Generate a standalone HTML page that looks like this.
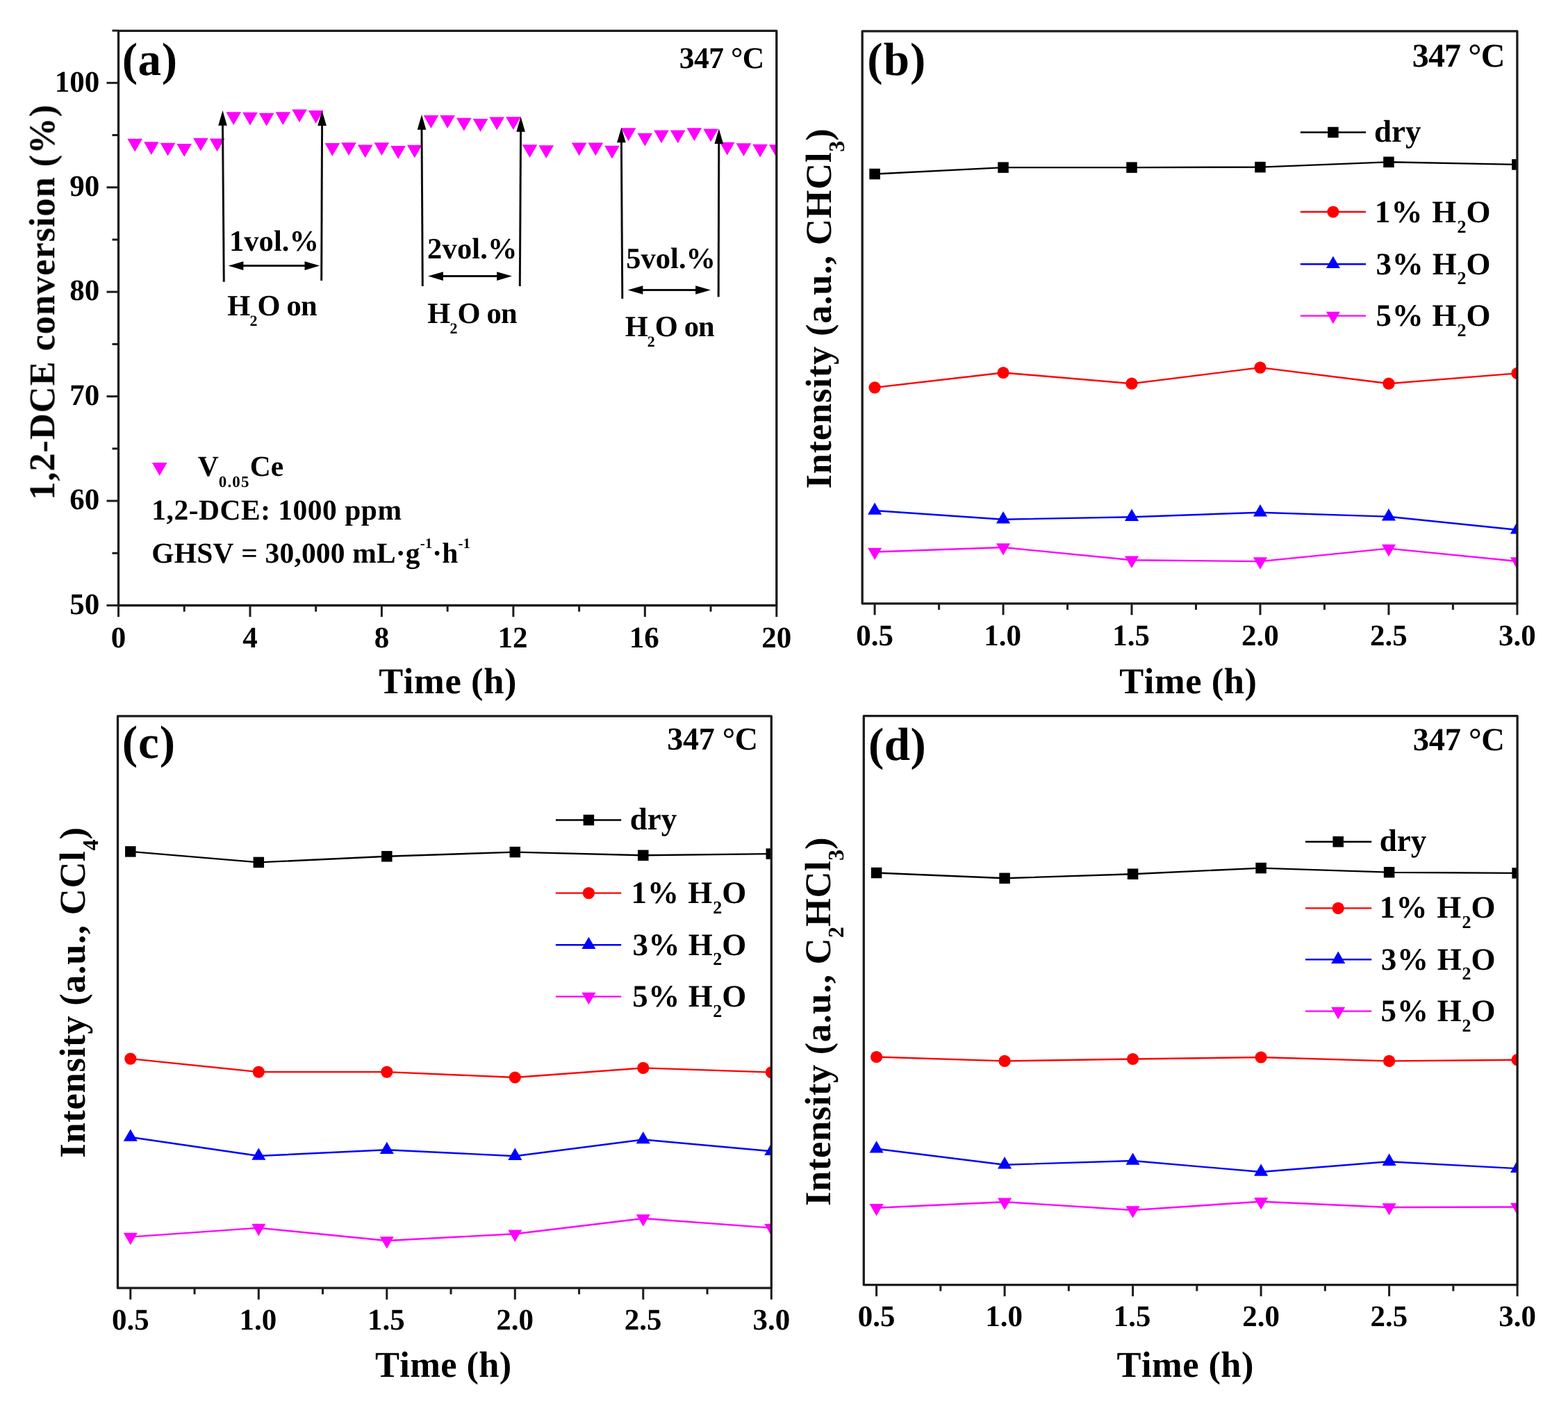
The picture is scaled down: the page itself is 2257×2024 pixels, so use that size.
<!DOCTYPE html>
<html><head><meta charset="utf-8"><title>Figure</title>
<style>
html,body{margin:0;padding:0;background:#fff;}
body{width:2257px;height:2024px;overflow:hidden;}
svg{display:block;font-kerning:none;text-rendering:geometricPrecision;}
text{font-kerning:none;}
</style></head><body>
<svg width="2257" height="2024" viewBox="0 0 2257 2024">
<defs><filter id="soft" x="0" y="0" width="2257" height="2024" filterUnits="userSpaceOnUse"><feGaussianBlur stdDeviation="0.45"/></filter></defs>
<rect width="2257" height="2024" fill="#fff"/>
<g filter="url(#soft)">
<clipPath id="ca"><rect x="170.50" y="44.40" width="947.30" height="827.10"/></clipPath>
<g clip-path="url(#ca)">
<polygon points="183.36,199.85 205.01,199.85 194.18,218.60" fill="#ff00ff"/>
<polygon points="207.04,204.25 228.69,204.25 217.87,223.00" fill="#ff00ff"/>
<polygon points="230.72,205.75 252.37,205.75 241.55,224.50" fill="#ff00ff"/>
<polygon points="254.40,206.95 276.06,206.95 265.23,225.70" fill="#ff00ff"/>
<polygon points="278.09,198.85 299.74,198.85 288.91,217.60" fill="#ff00ff"/>
<polygon points="301.77,199.45 323.42,199.45 312.59,218.20" fill="#ff00ff"/>
<polygon points="325.45,161.35 347.10,161.35 336.28,180.10" fill="#ff00ff"/>
<polygon points="349.13,161.85 370.79,161.85 359.96,180.60" fill="#ff00ff"/>
<polygon points="372.82,162.85 394.47,162.85 383.64,181.60" fill="#ff00ff"/>
<polygon points="396.50,161.15 418.15,161.15 407.32,179.90" fill="#ff00ff"/>
<polygon points="420.18,157.45 441.83,157.45 431.01,176.20" fill="#ff00ff"/>
<polygon points="443.86,158.95 465.52,158.95 454.69,177.70" fill="#ff00ff"/>
<polygon points="467.55,205.95 489.20,205.95 478.37,224.70" fill="#ff00ff"/>
<polygon points="491.23,205.25 512.88,205.25 502.05,224.00" fill="#ff00ff"/>
<polygon points="514.91,208.45 536.56,208.45 525.74,227.20" fill="#ff00ff"/>
<polygon points="538.59,205.25 560.25,205.25 549.42,224.00" fill="#ff00ff"/>
<polygon points="562.28,209.95 583.93,209.95 573.10,228.70" fill="#ff00ff"/>
<polygon points="585.96,208.65 607.61,208.65 596.78,227.40" fill="#ff00ff"/>
<polygon points="609.64,166.05 631.29,166.05 620.47,184.80" fill="#ff00ff"/>
<polygon points="633.32,166.05 654.98,166.05 644.15,184.80" fill="#ff00ff"/>
<polygon points="657.01,169.75 678.66,169.75 667.83,188.50" fill="#ff00ff"/>
<polygon points="680.69,170.95 702.34,170.95 691.51,189.70" fill="#ff00ff"/>
<polygon points="704.37,168.55 726.02,168.55 715.20,187.30" fill="#ff00ff"/>
<polygon points="728.05,168.25 749.71,168.25 738.88,187.00" fill="#ff00ff"/>
<polygon points="751.74,208.15 773.39,208.15 762.56,226.90" fill="#ff00ff"/>
<polygon points="775.42,209.15 797.07,209.15 786.25,227.90" fill="#ff00ff"/>
<polygon points="822.78,205.45 844.44,205.45 833.61,224.20" fill="#ff00ff"/>
<polygon points="846.47,205.45 868.12,205.45 857.29,224.20" fill="#ff00ff"/>
<polygon points="870.15,209.75 891.80,209.75 880.98,228.50" fill="#ff00ff"/>
<polygon points="893.83,184.35 915.48,184.35 904.66,203.10" fill="#ff00ff"/>
<polygon points="917.51,191.75 939.17,191.75 928.34,210.50" fill="#ff00ff"/>
<polygon points="941.20,187.55 962.85,187.55 952.02,206.30" fill="#ff00ff"/>
<polygon points="964.88,187.55 986.53,187.55 975.70,206.30" fill="#ff00ff"/>
<polygon points="988.56,184.25 1010.21,184.25 999.39,203.00" fill="#ff00ff"/>
<polygon points="1012.24,185.45 1033.90,185.45 1023.07,204.20" fill="#ff00ff"/>
<polygon points="1035.93,204.85 1057.58,204.85 1046.75,223.60" fill="#ff00ff"/>
<polygon points="1059.61,206.15 1081.26,206.15 1070.43,224.90" fill="#ff00ff"/>
<polygon points="1083.29,207.65 1104.94,207.65 1094.12,226.40" fill="#ff00ff"/>
<polygon points="1106.97,208.35 1128.63,208.35 1117.80,227.10" fill="#ff00ff"/>
</g>
<line x1="320.50" y1="178.80" x2="322.30" y2="405.80" stroke="#111" stroke-width="3.00" stroke-linecap="butt"/>
<polygon points="320.50,159.10 314.20,180.80 326.80,180.80" fill="#000"/>
<line x1="463.60" y1="178.90" x2="462.70" y2="403.90" stroke="#111" stroke-width="3.00" stroke-linecap="butt"/>
<polygon points="463.60,159.20 457.30,180.90 469.90,180.90" fill="#000"/>
<line x1="607.00" y1="184.80" x2="608.30" y2="412.00" stroke="#111" stroke-width="3.00" stroke-linecap="butt"/>
<polygon points="607.00,165.10 600.70,186.80 613.30,186.80" fill="#000"/>
<line x1="749.60" y1="187.70" x2="748.30" y2="412.00" stroke="#111" stroke-width="3.00" stroke-linecap="butt"/>
<polygon points="749.60,168.00 743.30,189.70 755.90,189.70" fill="#000"/>
<line x1="894.40" y1="203.30" x2="895.80" y2="429.90" stroke="#111" stroke-width="3.00" stroke-linecap="butt"/>
<polygon points="894.40,183.60 888.10,205.30 900.70,205.30" fill="#000"/>
<line x1="1034.80" y1="205.00" x2="1034.20" y2="427.40" stroke="#111" stroke-width="3.00" stroke-linecap="butt"/>
<polygon points="1034.80,185.30 1028.50,207.00 1041.10,207.00" fill="#000"/>
<line x1="348.40" y1="382.60" x2="440.50" y2="382.60" stroke="#111" stroke-width="3.00" stroke-linecap="butt"/>
<polygon points="328.70,382.60 350.40,376.30 350.40,388.90" fill="#000"/>
<polygon points="460.20,382.60 438.50,376.30 438.50,388.90" fill="#000"/>
<line x1="635.90" y1="397.60" x2="717.20" y2="397.60" stroke="#111" stroke-width="3.00" stroke-linecap="butt"/>
<polygon points="616.20,397.60 637.90,391.30 637.90,403.90" fill="#000"/>
<polygon points="736.90,397.60 715.20,391.30 715.20,403.90" fill="#000"/>
<line x1="923.40" y1="417.50" x2="1003.20" y2="417.50" stroke="#111" stroke-width="3.00" stroke-linecap="butt"/>
<polygon points="903.70,417.50 925.40,411.20 925.40,423.80" fill="#000"/>
<polygon points="1022.90,417.50 1001.20,411.20 1001.20,423.80" fill="#000"/>
<rect x="170.50" y="44.40" width="947.30" height="827.10" fill="none" stroke="#1c1c1c" stroke-width="3.30" stroke-linejoin="round"/>
<line x1="170.50" y1="871.50" x2="170.50" y2="888.00" stroke="#1c1c1c" stroke-width="3.00" stroke-linecap="butt"/>
<line x1="265.23" y1="871.50" x2="265.23" y2="880.50" stroke="#1c1c1c" stroke-width="3.00" stroke-linecap="butt"/>
<line x1="359.96" y1="871.50" x2="359.96" y2="888.00" stroke="#1c1c1c" stroke-width="3.00" stroke-linecap="butt"/>
<line x1="454.69" y1="871.50" x2="454.69" y2="880.50" stroke="#1c1c1c" stroke-width="3.00" stroke-linecap="butt"/>
<line x1="549.42" y1="871.50" x2="549.42" y2="888.00" stroke="#1c1c1c" stroke-width="3.00" stroke-linecap="butt"/>
<line x1="644.15" y1="871.50" x2="644.15" y2="880.50" stroke="#1c1c1c" stroke-width="3.00" stroke-linecap="butt"/>
<line x1="738.88" y1="871.50" x2="738.88" y2="888.00" stroke="#1c1c1c" stroke-width="3.00" stroke-linecap="butt"/>
<line x1="833.61" y1="871.50" x2="833.61" y2="880.50" stroke="#1c1c1c" stroke-width="3.00" stroke-linecap="butt"/>
<line x1="928.34" y1="871.50" x2="928.34" y2="888.00" stroke="#1c1c1c" stroke-width="3.00" stroke-linecap="butt"/>
<line x1="1023.07" y1="871.50" x2="1023.07" y2="880.50" stroke="#1c1c1c" stroke-width="3.00" stroke-linecap="butt"/>
<line x1="1117.80" y1="871.50" x2="1117.80" y2="888.00" stroke="#1c1c1c" stroke-width="3.00" stroke-linecap="butt"/>
<line x1="170.50" y1="871.50" x2="153.50" y2="871.50" stroke="#1c1c1c" stroke-width="3.00" stroke-linecap="butt"/>
<line x1="170.50" y1="796.28" x2="161.50" y2="796.28" stroke="#1c1c1c" stroke-width="3.00" stroke-linecap="butt"/>
<line x1="170.50" y1="721.06" x2="153.50" y2="721.06" stroke="#1c1c1c" stroke-width="3.00" stroke-linecap="butt"/>
<line x1="170.50" y1="645.84" x2="161.50" y2="645.84" stroke="#1c1c1c" stroke-width="3.00" stroke-linecap="butt"/>
<line x1="170.50" y1="570.62" x2="153.50" y2="570.62" stroke="#1c1c1c" stroke-width="3.00" stroke-linecap="butt"/>
<line x1="170.50" y1="495.40" x2="161.50" y2="495.40" stroke="#1c1c1c" stroke-width="3.00" stroke-linecap="butt"/>
<line x1="170.50" y1="420.18" x2="153.50" y2="420.18" stroke="#1c1c1c" stroke-width="3.00" stroke-linecap="butt"/>
<line x1="170.50" y1="344.96" x2="161.50" y2="344.96" stroke="#1c1c1c" stroke-width="3.00" stroke-linecap="butt"/>
<line x1="170.50" y1="269.74" x2="153.50" y2="269.74" stroke="#1c1c1c" stroke-width="3.00" stroke-linecap="butt"/>
<line x1="170.50" y1="194.52" x2="161.50" y2="194.52" stroke="#1c1c1c" stroke-width="3.00" stroke-linecap="butt"/>
<line x1="170.50" y1="119.30" x2="153.50" y2="119.30" stroke="#1c1c1c" stroke-width="3.00" stroke-linecap="butt"/>
<line x1="170.50" y1="44.08" x2="161.50" y2="44.08" stroke="#1c1c1c" stroke-width="3.00" stroke-linecap="butt"/>
<text x="159.75" y="931.80" font-size="43.00" font-family="'Liberation Serif','Times New Roman',serif" font-weight="bold" fill="#000">0</text>
<text x="349.31" y="931.80" font-size="43.00" font-family="'Liberation Serif','Times New Roman',serif" font-weight="bold" fill="#000">4</text>
<text x="538.67" y="931.80" font-size="43.00" font-family="'Liberation Serif','Times New Roman',serif" font-weight="bold" fill="#000">8</text>
<text x="716.58" y="931.80" font-size="43.00" font-family="'Liberation Serif','Times New Roman',serif" font-weight="bold" fill="#000">12</text>
<text x="905.75" y="931.80" font-size="43.00" font-family="'Liberation Serif','Times New Roman',serif" font-weight="bold" fill="#000">16</text>
<text x="1096.22" y="931.80" font-size="43.00" font-family="'Liberation Serif','Times New Roman',serif" font-weight="bold" fill="#000">20</text>
<text x="100.24" y="883.70" font-size="43.00" font-family="'Liberation Serif','Times New Roman',serif" font-weight="bold" fill="#000">50</text>
<text x="100.24" y="733.26" font-size="43.00" font-family="'Liberation Serif','Times New Roman',serif" font-weight="bold" fill="#000">60</text>
<text x="100.24" y="582.82" font-size="43.00" font-family="'Liberation Serif','Times New Roman',serif" font-weight="bold" fill="#000">70</text>
<text x="100.24" y="432.38" font-size="43.00" font-family="'Liberation Serif','Times New Roman',serif" font-weight="bold" fill="#000">80</text>
<text x="100.24" y="281.94" font-size="43.00" font-family="'Liberation Serif','Times New Roman',serif" font-weight="bold" fill="#000">90</text>
<text x="78.74" y="131.50" font-size="43.00" font-family="'Liberation Serif','Times New Roman',serif" font-weight="bold" fill="#000">100</text>
<text x="545.18" y="997.60" font-size="52.50" font-family="'Liberation Serif','Times New Roman',serif" font-weight="bold" fill="#000" letter-spacing="0.629">Time (h)</text>
<text x="0.00" y="0.00" transform="translate(78.20 719.80) rotate(-90)" font-size="52.50" font-family="'Liberation Serif','Times New Roman',serif" font-weight="bold" fill="#000" letter-spacing="0.913">1,2-DCE conversion (%)</text>
<text x="175.76" y="108.40" font-size="67.00" font-family="'Liberation Serif','Times New Roman',serif" font-weight="bold" fill="#000" letter-spacing="0.533">(a)</text>
<text x="977.86" y="98.30" font-size="43.50" font-family="'Liberation Serif','Times New Roman',serif" font-weight="bold" fill="#000" letter-spacing="-0.517">347 °C</text>
<text x="329.90" y="361.20" font-size="42.50" font-family="'Liberation Serif','Times New Roman',serif" font-weight="bold" fill="#000" letter-spacing="0.101">1vol.%</text>
<text x="615.12" y="372.40" font-size="42.50" font-family="'Liberation Serif','Times New Roman',serif" font-weight="bold" fill="#000" letter-spacing="0.157">2vol.%</text>
<text x="901.20" y="385.80" font-size="42.50" font-family="'Liberation Serif','Times New Roman',serif" font-weight="bold" fill="#000" letter-spacing="0.041">5vol.%</text>
<text x="327.17" y="454.30" font-size="42.50" font-family="'Liberation Serif','Times New Roman',serif" font-weight="bold" fill="#000" letter-spacing="-0.764">H</text>
<text x="359.47" y="469.30" font-size="22.00" font-family="'Liberation Serif','Times New Roman',serif" font-weight="bold" fill="#000">2</text>
<text x="370.47" y="454.30" font-size="42.50" font-family="'Liberation Serif','Times New Roman',serif" font-weight="bold" fill="#000" letter-spacing="-0.764">O on</text>
<text x="615.17" y="465.40" font-size="42.50" font-family="'Liberation Serif','Times New Roman',serif" font-weight="bold" fill="#000" letter-spacing="-0.764">H</text>
<text x="647.47" y="480.40" font-size="22.00" font-family="'Liberation Serif','Times New Roman',serif" font-weight="bold" fill="#000">2</text>
<text x="658.47" y="465.40" font-size="42.50" font-family="'Liberation Serif','Times New Roman',serif" font-weight="bold" fill="#000" letter-spacing="-0.764">O on</text>
<text x="899.67" y="484.30" font-size="42.50" font-family="'Liberation Serif','Times New Roman',serif" font-weight="bold" fill="#000" letter-spacing="-0.889">H</text>
<text x="931.84" y="499.30" font-size="22.00" font-family="'Liberation Serif','Times New Roman',serif" font-weight="bold" fill="#000">2</text>
<text x="942.84" y="484.30" font-size="42.50" font-family="'Liberation Serif','Times New Roman',serif" font-weight="bold" fill="#000" letter-spacing="-0.889">O on</text>
<polygon points="218.87,666.05 240.53,666.05 229.70,684.80" fill="#ff00ff"/>
<text x="284.73" y="684.60" font-size="41.50" font-family="'Liberation Serif','Times New Roman',serif" font-weight="bold" fill="#000">V</text>
<text x="314.70" y="701.10" font-size="23.00" font-family="'Liberation Serif','Times New Roman',serif" font-weight="bold" fill="#000" letter-spacing="1.200">0.05</text>
<text x="359.75" y="684.60" font-size="41.50" font-family="'Liberation Serif','Times New Roman',serif" font-weight="bold" fill="#000">Ce</text>
<text x="218.28" y="747.60" font-size="41.50" font-family="'Liberation Serif','Times New Roman',serif" font-weight="bold" fill="#000" letter-spacing="0.507">1,2-DCE: 1000 ppm</text>
<text x="218.37" y="809.60" font-size="41.50" font-family="'Liberation Serif','Times New Roman',serif" font-weight="bold" fill="#000" letter-spacing="0.168">GHSV = 30,000 mL·g</text>
<text x="604.74" y="788.60" font-size="21.00" font-family="'Liberation Serif','Times New Roman',serif" font-weight="bold" fill="#000">-1</text>
<text x="622.24" y="809.60" font-size="41.50" font-family="'Liberation Serif','Times New Roman',serif" font-weight="bold" fill="#000" letter-spacing="0.168">·h</text>
<text x="659.49" y="788.60" font-size="21.00" font-family="'Liberation Serif','Times New Roman',serif" font-weight="bold" fill="#000">-1</text>
<clipPath id="cb"><rect x="1241.20" y="44.80" width="942.70" height="824.00"/></clipPath>
<g clip-path="url(#cb)">
<polyline points="1259.10,250.50 1444.06,241.10 1629.02,241.10 1813.98,240.60 1998.94,233.30 2183.90,236.90" fill="none" stroke="#000000" stroke-width="2.40" stroke-linejoin="round"/>
<polyline points="1259.10,557.90 1444.06,536.50 1629.02,552.20 1813.98,529.10 1998.94,552.20 2183.90,537.40" fill="none" stroke="#ff0000" stroke-width="2.40" stroke-linejoin="round"/>
<polyline points="1259.10,735.00 1444.06,747.70 1629.02,744.20 1813.98,737.70 1998.94,743.70 2183.90,762.70" fill="none" stroke="#0000ff" stroke-width="2.40" stroke-linejoin="round"/>
<polyline points="1259.10,794.50 1444.06,788.00 1629.02,806.30 1813.98,808.10 1998.94,789.60 2183.90,808.00" fill="none" stroke="#ff00ff" stroke-width="2.40" stroke-linejoin="round"/>
<rect x="1251.35" y="242.75" width="15.50" height="15.50" fill="#000000"/>
<rect x="1436.31" y="233.35" width="15.50" height="15.50" fill="#000000"/>
<rect x="1621.27" y="233.35" width="15.50" height="15.50" fill="#000000"/>
<rect x="1806.23" y="232.85" width="15.50" height="15.50" fill="#000000"/>
<rect x="1991.19" y="225.55" width="15.50" height="15.50" fill="#000000"/>
<rect x="2176.15" y="229.15" width="15.50" height="15.50" fill="#000000"/>
<circle cx="1259.10" cy="557.90" r="8.60" fill="#ff0000"/>
<circle cx="1444.06" cy="536.50" r="8.60" fill="#ff0000"/>
<circle cx="1629.02" cy="552.20" r="8.60" fill="#ff0000"/>
<circle cx="1813.98" cy="529.10" r="8.60" fill="#ff0000"/>
<circle cx="1998.94" cy="552.20" r="8.60" fill="#ff0000"/>
<circle cx="2183.90" cy="537.40" r="8.60" fill="#ff0000"/>
<polygon points="1249.05,740.80 1269.15,740.80 1259.10,723.40" fill="#0000ff"/>
<polygon points="1434.01,753.50 1454.11,753.50 1444.06,736.10" fill="#0000ff"/>
<polygon points="1618.97,750.00 1639.07,750.00 1629.02,732.60" fill="#0000ff"/>
<polygon points="1803.93,743.50 1824.03,743.50 1813.98,726.10" fill="#0000ff"/>
<polygon points="1988.89,749.50 2008.99,749.50 1998.94,732.10" fill="#0000ff"/>
<polygon points="2173.85,768.50 2193.95,768.50 2183.90,751.10" fill="#0000ff"/>
<polygon points="1249.05,788.70 1269.15,788.70 1259.10,806.10" fill="#ff00ff"/>
<polygon points="1434.01,782.20 1454.11,782.20 1444.06,799.60" fill="#ff00ff"/>
<polygon points="1618.97,800.50 1639.07,800.50 1629.02,817.90" fill="#ff00ff"/>
<polygon points="1803.93,802.30 1824.03,802.30 1813.98,819.70" fill="#ff00ff"/>
<polygon points="1988.89,783.80 2008.99,783.80 1998.94,801.20" fill="#ff00ff"/>
<polygon points="2173.85,802.20 2193.95,802.20 2183.90,819.60" fill="#ff00ff"/>
</g>
<rect x="1241.20" y="44.80" width="942.70" height="824.00" fill="none" stroke="#1c1c1c" stroke-width="3.30" stroke-linejoin="round"/>
<line x1="1259.10" y1="868.80" x2="1259.10" y2="885.30" stroke="#1c1c1c" stroke-width="3.00" stroke-linecap="butt"/>
<line x1="1444.06" y1="868.80" x2="1444.06" y2="885.30" stroke="#1c1c1c" stroke-width="3.00" stroke-linecap="butt"/>
<line x1="1629.02" y1="868.80" x2="1629.02" y2="885.30" stroke="#1c1c1c" stroke-width="3.00" stroke-linecap="butt"/>
<line x1="1813.98" y1="868.80" x2="1813.98" y2="885.30" stroke="#1c1c1c" stroke-width="3.00" stroke-linecap="butt"/>
<line x1="1998.94" y1="868.80" x2="1998.94" y2="885.30" stroke="#1c1c1c" stroke-width="3.00" stroke-linecap="butt"/>
<line x1="2183.90" y1="868.80" x2="2183.90" y2="885.30" stroke="#1c1c1c" stroke-width="3.00" stroke-linecap="butt"/>
<line x1="1351.58" y1="868.80" x2="1351.58" y2="877.80" stroke="#1c1c1c" stroke-width="3.00" stroke-linecap="butt"/>
<line x1="1536.54" y1="868.80" x2="1536.54" y2="877.80" stroke="#1c1c1c" stroke-width="3.00" stroke-linecap="butt"/>
<line x1="1721.50" y1="868.80" x2="1721.50" y2="877.80" stroke="#1c1c1c" stroke-width="3.00" stroke-linecap="butt"/>
<line x1="1906.46" y1="868.80" x2="1906.46" y2="877.80" stroke="#1c1c1c" stroke-width="3.00" stroke-linecap="butt"/>
<line x1="2091.42" y1="868.80" x2="2091.42" y2="877.80" stroke="#1c1c1c" stroke-width="3.00" stroke-linecap="butt"/>
<text x="1232.19" y="928.60" font-size="43.00" font-family="'Liberation Serif','Times New Roman',serif" font-weight="bold" fill="#000">0.5</text>
<text x="1416.28" y="928.60" font-size="43.00" font-family="'Liberation Serif','Times New Roman',serif" font-weight="bold" fill="#000">1.0</text>
<text x="1601.21" y="928.60" font-size="43.00" font-family="'Liberation Serif','Times New Roman',serif" font-weight="bold" fill="#000">1.5</text>
<text x="1787.02" y="928.60" font-size="43.00" font-family="'Liberation Serif','Times New Roman',serif" font-weight="bold" fill="#000">2.0</text>
<text x="1971.95" y="928.60" font-size="43.00" font-family="'Liberation Serif','Times New Roman',serif" font-weight="bold" fill="#000">2.5</text>
<text x="2157.04" y="928.60" font-size="43.00" font-family="'Liberation Serif','Times New Roman',serif" font-weight="bold" fill="#000">3.0</text>
<line x1="1871.80" y1="190.50" x2="1966.00" y2="190.50" stroke="#000000" stroke-width="2.40" stroke-linecap="butt"/>
<rect x="1911.15" y="182.75" width="15.50" height="15.50" fill="#000000"/>
<text x="1978.08" y="204.40" font-size="45.00" font-family="'Liberation Serif','Times New Roman',serif" font-weight="bold" fill="#000">dry</text>
<line x1="1871.80" y1="305.00" x2="1966.00" y2="305.00" stroke="#ff0000" stroke-width="2.40" stroke-linecap="butt"/>
<circle cx="1918.90" cy="305.00" r="8.60" fill="#ff0000"/>
<text x="1978.70" y="320.00" font-size="45.00" font-family="'Liberation Serif','Times New Roman',serif" font-weight="bold" fill="#000" letter-spacing="1.236">1% H</text>
<text x="2097.39" y="334.50" font-size="26.00" font-family="'Liberation Serif','Times New Roman',serif" font-weight="bold" fill="#000">2</text>
<text x="2110.39" y="320.00" font-size="45.00" font-family="'Liberation Serif','Times New Roman',serif" font-weight="bold" fill="#000" letter-spacing="1.236">O</text>
<line x1="1871.80" y1="380.30" x2="1966.00" y2="380.30" stroke="#0000ff" stroke-width="2.40" stroke-linecap="butt"/>
<polygon points="1908.85,386.10 1928.95,386.10 1918.90,368.70" fill="#0000ff"/>
<text x="1980.61" y="394.80" font-size="45.00" font-family="'Liberation Serif','Times New Roman',serif" font-weight="bold" fill="#000" letter-spacing="0.759">3% H</text>
<text x="2097.39" y="409.30" font-size="26.00" font-family="'Liberation Serif','Times New Roman',serif" font-weight="bold" fill="#000">2</text>
<text x="2110.39" y="394.80" font-size="45.00" font-family="'Liberation Serif','Times New Roman',serif" font-weight="bold" fill="#000" letter-spacing="0.759">O</text>
<line x1="1871.80" y1="454.60" x2="1966.00" y2="454.60" stroke="#ff00ff" stroke-width="2.40" stroke-linecap="butt"/>
<polygon points="1908.85,448.80 1928.95,448.80 1918.90,466.20" fill="#ff00ff"/>
<text x="1980.50" y="469.30" font-size="45.00" font-family="'Liberation Serif','Times New Roman',serif" font-weight="bold" fill="#000" letter-spacing="0.786">5% H</text>
<text x="2097.39" y="483.80" font-size="26.00" font-family="'Liberation Serif','Times New Roman',serif" font-weight="bold" fill="#000">2</text>
<text x="2110.39" y="469.30" font-size="45.00" font-family="'Liberation Serif','Times New Roman',serif" font-weight="bold" fill="#000" letter-spacing="0.786">O</text>
<text x="1611.18" y="997.60" font-size="52.50" font-family="'Liberation Serif','Times New Roman',serif" font-weight="bold" fill="#000" letter-spacing="0.571">Time (h)</text>
<text x="0.00" y="0.00" transform="translate(1196.40 703.47) rotate(-90)" font-size="52.50" font-family="'Liberation Serif','Times New Roman',serif" font-weight="bold" fill="#000" letter-spacing="0.792">Intensity (a.u., CHCl</text>
<text x="484.79" y="19.00" transform="translate(1196.40 703.47) rotate(-90)" font-size="32.00" font-family="'Liberation Serif','Times New Roman',serif" font-weight="bold" fill="#000">3</text>
<text x="500.79" y="0.00" transform="translate(1196.40 703.47) rotate(-90)" font-size="52.50" font-family="'Liberation Serif','Times New Roman',serif" font-weight="bold" fill="#000" letter-spacing="0.792">)</text>
<text x="1248.36" y="108.20" font-size="67.00" font-family="'Liberation Serif','Times New Roman',serif" font-weight="bold" fill="#000" letter-spacing="1.052">(b)</text>
<text x="2032.80" y="96.00" font-size="48.00" font-family="'Liberation Serif','Times New Roman',serif" font-weight="bold" fill="#000" letter-spacing="-0.860">347 °C</text>
<clipPath id="cc"><rect x="169.50" y="1030.80" width="940.80" height="823.40"/></clipPath>
<g clip-path="url(#cc)">
<polyline points="187.80,1225.90 372.30,1241.40 556.80,1232.80 741.30,1226.60 925.80,1231.30 1110.30,1229.10" fill="none" stroke="#000000" stroke-width="2.40" stroke-linejoin="round"/>
<polyline points="187.80,1524.10 372.30,1543.10 556.80,1543.10 741.30,1551.00 925.80,1537.40 1110.30,1543.60" fill="none" stroke="#ff0000" stroke-width="2.40" stroke-linejoin="round"/>
<polyline points="187.80,1637.00 372.30,1664.00 556.80,1655.30 741.30,1664.20 925.80,1640.50 1110.30,1657.30" fill="none" stroke="#0000ff" stroke-width="2.40" stroke-linejoin="round"/>
<polyline points="187.80,1780.60 372.30,1767.60 556.80,1786.00 741.30,1776.20 925.80,1754.00 1110.30,1767.60" fill="none" stroke="#ff00ff" stroke-width="2.40" stroke-linejoin="round"/>
<rect x="180.05" y="1218.15" width="15.50" height="15.50" fill="#000000"/>
<rect x="364.55" y="1233.65" width="15.50" height="15.50" fill="#000000"/>
<rect x="549.05" y="1225.05" width="15.50" height="15.50" fill="#000000"/>
<rect x="733.55" y="1218.85" width="15.50" height="15.50" fill="#000000"/>
<rect x="918.05" y="1223.55" width="15.50" height="15.50" fill="#000000"/>
<rect x="1102.55" y="1221.35" width="15.50" height="15.50" fill="#000000"/>
<circle cx="187.80" cy="1524.10" r="8.60" fill="#ff0000"/>
<circle cx="372.30" cy="1543.10" r="8.60" fill="#ff0000"/>
<circle cx="556.80" cy="1543.10" r="8.60" fill="#ff0000"/>
<circle cx="741.30" cy="1551.00" r="8.60" fill="#ff0000"/>
<circle cx="925.80" cy="1537.40" r="8.60" fill="#ff0000"/>
<circle cx="1110.30" cy="1543.60" r="8.60" fill="#ff0000"/>
<polygon points="177.75,1642.80 197.85,1642.80 187.80,1625.40" fill="#0000ff"/>
<polygon points="362.25,1669.80 382.35,1669.80 372.30,1652.40" fill="#0000ff"/>
<polygon points="546.75,1661.10 566.85,1661.10 556.80,1643.70" fill="#0000ff"/>
<polygon points="731.25,1670.00 751.35,1670.00 741.30,1652.60" fill="#0000ff"/>
<polygon points="915.75,1646.30 935.85,1646.30 925.80,1628.90" fill="#0000ff"/>
<polygon points="1100.25,1663.10 1120.35,1663.10 1110.30,1645.70" fill="#0000ff"/>
<polygon points="177.75,1774.80 197.85,1774.80 187.80,1792.20" fill="#ff00ff"/>
<polygon points="362.25,1761.80 382.35,1761.80 372.30,1779.20" fill="#ff00ff"/>
<polygon points="546.75,1780.20 566.85,1780.20 556.80,1797.60" fill="#ff00ff"/>
<polygon points="731.25,1770.40 751.35,1770.40 741.30,1787.80" fill="#ff00ff"/>
<polygon points="915.75,1748.20 935.85,1748.20 925.80,1765.60" fill="#ff00ff"/>
<polygon points="1100.25,1761.80 1120.35,1761.80 1110.30,1779.20" fill="#ff00ff"/>
</g>
<rect x="169.50" y="1030.80" width="940.80" height="823.40" fill="none" stroke="#1c1c1c" stroke-width="3.30" stroke-linejoin="round"/>
<line x1="187.80" y1="1854.20" x2="187.80" y2="1870.70" stroke="#1c1c1c" stroke-width="3.00" stroke-linecap="butt"/>
<line x1="372.30" y1="1854.20" x2="372.30" y2="1870.70" stroke="#1c1c1c" stroke-width="3.00" stroke-linecap="butt"/>
<line x1="556.80" y1="1854.20" x2="556.80" y2="1870.70" stroke="#1c1c1c" stroke-width="3.00" stroke-linecap="butt"/>
<line x1="741.30" y1="1854.20" x2="741.30" y2="1870.70" stroke="#1c1c1c" stroke-width="3.00" stroke-linecap="butt"/>
<line x1="925.80" y1="1854.20" x2="925.80" y2="1870.70" stroke="#1c1c1c" stroke-width="3.00" stroke-linecap="butt"/>
<line x1="1110.30" y1="1854.20" x2="1110.30" y2="1870.70" stroke="#1c1c1c" stroke-width="3.00" stroke-linecap="butt"/>
<line x1="280.05" y1="1854.20" x2="280.05" y2="1863.20" stroke="#1c1c1c" stroke-width="3.00" stroke-linecap="butt"/>
<line x1="464.55" y1="1854.20" x2="464.55" y2="1863.20" stroke="#1c1c1c" stroke-width="3.00" stroke-linecap="butt"/>
<line x1="649.05" y1="1854.20" x2="649.05" y2="1863.20" stroke="#1c1c1c" stroke-width="3.00" stroke-linecap="butt"/>
<line x1="833.55" y1="1854.20" x2="833.55" y2="1863.20" stroke="#1c1c1c" stroke-width="3.00" stroke-linecap="butt"/>
<line x1="1018.05" y1="1854.20" x2="1018.05" y2="1863.20" stroke="#1c1c1c" stroke-width="3.00" stroke-linecap="butt"/>
<text x="160.89" y="1913.80" font-size="43.00" font-family="'Liberation Serif','Times New Roman',serif" font-weight="bold" fill="#000">0.5</text>
<text x="344.52" y="1913.80" font-size="43.00" font-family="'Liberation Serif','Times New Roman',serif" font-weight="bold" fill="#000">1.0</text>
<text x="528.99" y="1913.80" font-size="43.00" font-family="'Liberation Serif','Times New Roman',serif" font-weight="bold" fill="#000">1.5</text>
<text x="714.34" y="1913.80" font-size="43.00" font-family="'Liberation Serif','Times New Roman',serif" font-weight="bold" fill="#000">2.0</text>
<text x="898.81" y="1913.80" font-size="43.00" font-family="'Liberation Serif','Times New Roman',serif" font-weight="bold" fill="#000">2.5</text>
<text x="1083.44" y="1913.80" font-size="43.00" font-family="'Liberation Serif','Times New Roman',serif" font-weight="bold" fill="#000">3.0</text>
<line x1="799.90" y1="1180.50" x2="894.20" y2="1180.50" stroke="#000000" stroke-width="2.40" stroke-linecap="butt"/>
<rect x="839.65" y="1172.75" width="15.50" height="15.50" fill="#000000"/>
<text x="906.68" y="1194.40" font-size="45.00" font-family="'Liberation Serif','Times New Roman',serif" font-weight="bold" fill="#000">dry</text>
<line x1="799.90" y1="1285.60" x2="894.20" y2="1285.60" stroke="#ff0000" stroke-width="2.40" stroke-linecap="butt"/>
<circle cx="847.40" cy="1285.60" r="8.60" fill="#ff0000"/>
<text x="908.50" y="1300.30" font-size="45.00" font-family="'Liberation Serif','Times New Roman',serif" font-weight="bold" fill="#000" letter-spacing="1.011">1% H</text>
<text x="1026.29" y="1314.80" font-size="26.00" font-family="'Liberation Serif','Times New Roman',serif" font-weight="bold" fill="#000">2</text>
<text x="1039.29" y="1300.30" font-size="45.00" font-family="'Liberation Serif','Times New Roman',serif" font-weight="bold" fill="#000" letter-spacing="1.011">O</text>
<line x1="799.90" y1="1360.30" x2="894.20" y2="1360.30" stroke="#0000ff" stroke-width="2.40" stroke-linecap="butt"/>
<polygon points="837.35,1366.10 857.45,1366.10 847.40,1348.70" fill="#0000ff"/>
<text x="910.41" y="1374.80" font-size="45.00" font-family="'Liberation Serif','Times New Roman',serif" font-weight="bold" fill="#000" letter-spacing="0.534">3% H</text>
<text x="1026.29" y="1389.30" font-size="26.00" font-family="'Liberation Serif','Times New Roman',serif" font-weight="bold" fill="#000">2</text>
<text x="1039.29" y="1374.80" font-size="45.00" font-family="'Liberation Serif','Times New Roman',serif" font-weight="bold" fill="#000" letter-spacing="0.534">O</text>
<line x1="799.90" y1="1434.60" x2="894.20" y2="1434.60" stroke="#ff00ff" stroke-width="2.40" stroke-linecap="butt"/>
<polygon points="837.35,1428.80 857.45,1428.80 847.40,1446.20" fill="#ff00ff"/>
<text x="910.30" y="1449.30" font-size="45.00" font-family="'Liberation Serif','Times New Roman',serif" font-weight="bold" fill="#000" letter-spacing="0.561">5% H</text>
<text x="1026.29" y="1463.80" font-size="26.00" font-family="'Liberation Serif','Times New Roman',serif" font-weight="bold" fill="#000">2</text>
<text x="1039.29" y="1449.30" font-size="45.00" font-family="'Liberation Serif','Times New Roman',serif" font-weight="bold" fill="#000" letter-spacing="0.561">O</text>
<text x="539.98" y="1981.60" font-size="52.50" font-family="'Liberation Serif','Times New Roman',serif" font-weight="bold" fill="#000" letter-spacing="0.329">Time (h)</text>
<text x="0.00" y="0.00" transform="translate(122.00 1666.77) rotate(-90)" font-size="52.50" font-family="'Liberation Serif','Times New Roman',serif" font-weight="bold" fill="#000" letter-spacing="0.743">Intensity (a.u., CCl</text>
<text x="442.19" y="19.00" transform="translate(122.00 1666.77) rotate(-90)" font-size="32.00" font-family="'Liberation Serif','Times New Roman',serif" font-weight="bold" fill="#000">4</text>
<text x="458.19" y="0.00" transform="translate(122.00 1666.77) rotate(-90)" font-size="52.50" font-family="'Liberation Serif','Times New Roman',serif" font-weight="bold" fill="#000" letter-spacing="0.743">)</text>
<text x="175.66" y="1091.00" font-size="67.00" font-family="'Liberation Serif','Times New Roman',serif" font-weight="bold" fill="#000" letter-spacing="1.014">(c)</text>
<text x="960.17" y="1079.30" font-size="46.00" font-family="'Liberation Serif','Times New Roman',serif" font-weight="bold" fill="#000" letter-spacing="-0.256">347 °C</text>
<clipPath id="cd"><rect x="1243.30" y="1030.60" width="940.80" height="819.00"/></clipPath>
<g clip-path="url(#cd)">
<polyline points="1261.60,1256.50 1446.10,1264.30 1630.60,1258.20 1815.10,1249.60 1999.60,1255.70 2184.10,1256.90" fill="none" stroke="#000000" stroke-width="2.40" stroke-linejoin="round"/>
<polyline points="1261.60,1521.50 1446.10,1527.40 1630.60,1524.50 1815.10,1522.00 1999.60,1527.40 2184.10,1525.70" fill="none" stroke="#ff0000" stroke-width="2.40" stroke-linejoin="round"/>
<polyline points="1261.60,1653.80 1446.10,1676.70 1630.60,1671.00 1815.10,1687.00 1999.60,1672.20 2184.10,1682.10" fill="none" stroke="#0000ff" stroke-width="2.40" stroke-linejoin="round"/>
<polyline points="1261.60,1738.80 1446.10,1730.20 1630.60,1742.00 1815.10,1729.70 1999.60,1738.00 2184.10,1737.50" fill="none" stroke="#ff00ff" stroke-width="2.40" stroke-linejoin="round"/>
<rect x="1253.85" y="1248.75" width="15.50" height="15.50" fill="#000000"/>
<rect x="1438.35" y="1256.55" width="15.50" height="15.50" fill="#000000"/>
<rect x="1622.85" y="1250.45" width="15.50" height="15.50" fill="#000000"/>
<rect x="1807.35" y="1241.85" width="15.50" height="15.50" fill="#000000"/>
<rect x="1991.85" y="1247.95" width="15.50" height="15.50" fill="#000000"/>
<rect x="2176.35" y="1249.15" width="15.50" height="15.50" fill="#000000"/>
<circle cx="1261.60" cy="1521.50" r="8.60" fill="#ff0000"/>
<circle cx="1446.10" cy="1527.40" r="8.60" fill="#ff0000"/>
<circle cx="1630.60" cy="1524.50" r="8.60" fill="#ff0000"/>
<circle cx="1815.10" cy="1522.00" r="8.60" fill="#ff0000"/>
<circle cx="1999.60" cy="1527.40" r="8.60" fill="#ff0000"/>
<circle cx="2184.10" cy="1525.70" r="8.60" fill="#ff0000"/>
<polygon points="1251.55,1659.60 1271.65,1659.60 1261.60,1642.20" fill="#0000ff"/>
<polygon points="1436.05,1682.50 1456.15,1682.50 1446.10,1665.10" fill="#0000ff"/>
<polygon points="1620.55,1676.80 1640.65,1676.80 1630.60,1659.40" fill="#0000ff"/>
<polygon points="1805.05,1692.80 1825.15,1692.80 1815.10,1675.40" fill="#0000ff"/>
<polygon points="1989.55,1678.00 2009.65,1678.00 1999.60,1660.60" fill="#0000ff"/>
<polygon points="2174.05,1687.90 2194.15,1687.90 2184.10,1670.50" fill="#0000ff"/>
<polygon points="1251.55,1733.00 1271.65,1733.00 1261.60,1750.40" fill="#ff00ff"/>
<polygon points="1436.05,1724.40 1456.15,1724.40 1446.10,1741.80" fill="#ff00ff"/>
<polygon points="1620.55,1736.20 1640.65,1736.20 1630.60,1753.60" fill="#ff00ff"/>
<polygon points="1805.05,1723.90 1825.15,1723.90 1815.10,1741.30" fill="#ff00ff"/>
<polygon points="1989.55,1732.20 2009.65,1732.20 1999.60,1749.60" fill="#ff00ff"/>
<polygon points="2174.05,1731.70 2194.15,1731.70 2184.10,1749.10" fill="#ff00ff"/>
</g>
<rect x="1243.30" y="1030.60" width="940.80" height="819.00" fill="none" stroke="#1c1c1c" stroke-width="3.30" stroke-linejoin="round"/>
<line x1="1261.60" y1="1849.60" x2="1261.60" y2="1866.10" stroke="#1c1c1c" stroke-width="3.00" stroke-linecap="butt"/>
<line x1="1446.10" y1="1849.60" x2="1446.10" y2="1866.10" stroke="#1c1c1c" stroke-width="3.00" stroke-linecap="butt"/>
<line x1="1630.60" y1="1849.60" x2="1630.60" y2="1866.10" stroke="#1c1c1c" stroke-width="3.00" stroke-linecap="butt"/>
<line x1="1815.10" y1="1849.60" x2="1815.10" y2="1866.10" stroke="#1c1c1c" stroke-width="3.00" stroke-linecap="butt"/>
<line x1="1999.60" y1="1849.60" x2="1999.60" y2="1866.10" stroke="#1c1c1c" stroke-width="3.00" stroke-linecap="butt"/>
<line x1="2184.10" y1="1849.60" x2="2184.10" y2="1866.10" stroke="#1c1c1c" stroke-width="3.00" stroke-linecap="butt"/>
<line x1="1353.85" y1="1849.60" x2="1353.85" y2="1858.60" stroke="#1c1c1c" stroke-width="3.00" stroke-linecap="butt"/>
<line x1="1538.35" y1="1849.60" x2="1538.35" y2="1858.60" stroke="#1c1c1c" stroke-width="3.00" stroke-linecap="butt"/>
<line x1="1722.85" y1="1849.60" x2="1722.85" y2="1858.60" stroke="#1c1c1c" stroke-width="3.00" stroke-linecap="butt"/>
<line x1="1907.35" y1="1849.60" x2="1907.35" y2="1858.60" stroke="#1c1c1c" stroke-width="3.00" stroke-linecap="butt"/>
<line x1="2091.85" y1="1849.60" x2="2091.85" y2="1858.60" stroke="#1c1c1c" stroke-width="3.00" stroke-linecap="butt"/>
<text x="1234.69" y="1908.80" font-size="43.00" font-family="'Liberation Serif','Times New Roman',serif" font-weight="bold" fill="#000">0.5</text>
<text x="1418.32" y="1908.80" font-size="43.00" font-family="'Liberation Serif','Times New Roman',serif" font-weight="bold" fill="#000">1.0</text>
<text x="1602.79" y="1908.80" font-size="43.00" font-family="'Liberation Serif','Times New Roman',serif" font-weight="bold" fill="#000">1.5</text>
<text x="1788.14" y="1908.80" font-size="43.00" font-family="'Liberation Serif','Times New Roman',serif" font-weight="bold" fill="#000">2.0</text>
<text x="1972.61" y="1908.80" font-size="43.00" font-family="'Liberation Serif','Times New Roman',serif" font-weight="bold" fill="#000">2.5</text>
<text x="2157.24" y="1908.80" font-size="43.00" font-family="'Liberation Serif','Times New Roman',serif" font-weight="bold" fill="#000">3.0</text>
<line x1="1879.00" y1="1211.70" x2="1974.20" y2="1211.70" stroke="#000000" stroke-width="2.40" stroke-linecap="butt"/>
<rect x="1918.45" y="1203.95" width="15.50" height="15.50" fill="#000000"/>
<text x="1985.78" y="1225.20" font-size="45.00" font-family="'Liberation Serif','Times New Roman',serif" font-weight="bold" fill="#000">dry</text>
<line x1="1879.00" y1="1307.40" x2="1974.20" y2="1307.40" stroke="#ff0000" stroke-width="2.40" stroke-linecap="butt"/>
<circle cx="1926.20" cy="1307.40" r="8.60" fill="#ff0000"/>
<text x="1985.80" y="1321.20" font-size="45.00" font-family="'Liberation Serif','Times New Roman',serif" font-weight="bold" fill="#000" letter-spacing="1.236">1% H</text>
<text x="2104.49" y="1335.70" font-size="26.00" font-family="'Liberation Serif','Times New Roman',serif" font-weight="bold" fill="#000">2</text>
<text x="2117.49" y="1321.20" font-size="45.00" font-family="'Liberation Serif','Times New Roman',serif" font-weight="bold" fill="#000" letter-spacing="1.236">O</text>
<line x1="1879.00" y1="1381.20" x2="1974.20" y2="1381.20" stroke="#0000ff" stroke-width="2.40" stroke-linecap="butt"/>
<polygon points="1916.15,1387.00 1936.25,1387.00 1926.20,1369.60" fill="#0000ff"/>
<text x="1987.71" y="1395.70" font-size="45.00" font-family="'Liberation Serif','Times New Roman',serif" font-weight="bold" fill="#000" letter-spacing="0.759">3% H</text>
<text x="2104.49" y="1410.20" font-size="26.00" font-family="'Liberation Serif','Times New Roman',serif" font-weight="bold" fill="#000">2</text>
<text x="2117.49" y="1395.70" font-size="45.00" font-family="'Liberation Serif','Times New Roman',serif" font-weight="bold" fill="#000" letter-spacing="0.759">O</text>
<line x1="1879.00" y1="1455.60" x2="1974.20" y2="1455.60" stroke="#ff00ff" stroke-width="2.40" stroke-linecap="butt"/>
<polygon points="1916.15,1449.80 1936.25,1449.80 1926.20,1467.20" fill="#ff00ff"/>
<text x="1987.60" y="1470.20" font-size="45.00" font-family="'Liberation Serif','Times New Roman',serif" font-weight="bold" fill="#000" letter-spacing="0.786">5% H</text>
<text x="2104.49" y="1484.70" font-size="26.00" font-family="'Liberation Serif','Times New Roman',serif" font-weight="bold" fill="#000">2</text>
<text x="2117.49" y="1470.20" font-size="45.00" font-family="'Liberation Serif','Times New Roman',serif" font-weight="bold" fill="#000" letter-spacing="0.786">O</text>
<text x="1607.58" y="1981.60" font-size="52.50" font-family="'Liberation Serif','Times New Roman',serif" font-weight="bold" fill="#000" letter-spacing="0.414">Time (h)</text>
<text x="0.00" y="0.00" transform="translate(1194.80 1735.97) rotate(-90)" font-size="52.50" font-family="'Liberation Serif','Times New Roman',serif" font-weight="bold" fill="#000" letter-spacing="0.615">Intensity (a.u., C</text>
<text x="385.91" y="19.00" transform="translate(1194.80 1735.97) rotate(-90)" font-size="32.00" font-family="'Liberation Serif','Times New Roman',serif" font-weight="bold" fill="#000">2</text>
<text x="401.91" y="0.00" transform="translate(1194.80 1735.97) rotate(-90)" font-size="52.50" font-family="'Liberation Serif','Times New Roman',serif" font-weight="bold" fill="#000" letter-spacing="0.615">HCl</text>
<text x="497.09" y="19.00" transform="translate(1194.80 1735.97) rotate(-90)" font-size="32.00" font-family="'Liberation Serif','Times New Roman',serif" font-weight="bold" fill="#000">3</text>
<text x="513.09" y="0.00" transform="translate(1194.80 1735.97) rotate(-90)" font-size="52.50" font-family="'Liberation Serif','Times New Roman',serif" font-weight="bold" fill="#000" letter-spacing="0.615">)</text>
<text x="1249.96" y="1094.20" font-size="67.00" font-family="'Liberation Serif','Times New Roman',serif" font-weight="bold" fill="#000" letter-spacing="0.452">(d)</text>
<text x="2033.85" y="1079.80" font-size="46.50" font-family="'Liberation Serif','Times New Roman',serif" font-weight="bold" fill="#000" letter-spacing="-0.332">347 °C</text>
</g>
</svg>
</body></html>
